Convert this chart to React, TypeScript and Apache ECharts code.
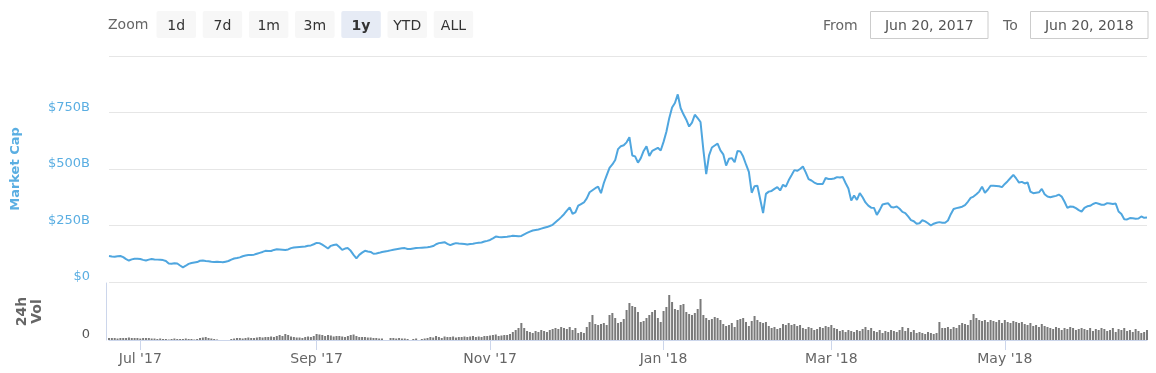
import React, { useEffect, useRef } from "react";
import * as echarts from "echarts";

// ---- data ----
const startDate = "2017-06-20";

// Total market cap, $B, one value per day from Jun 20, 2017 to Jun 20, 2018
const marketCap: number[] = [
  115, 113, 112, 114, 115, 110, 101, 95, 100, 103,
  103, 102, 98, 95, 99, 102, 100, 99, 98, 97,
  93, 82, 81, 83, 82, 73, 65, 72, 80, 84,
  86, 88, 94, 95, 93, 92, 90, 89, 90, 89,
  87, 90, 93, 99, 104, 106, 109, 114, 117, 119,
  120, 121, 125, 129, 133, 138, 137, 137, 142, 145,
  144, 143, 142, 144, 150, 153, 154, 155, 156, 157,
  160, 162, 167, 173, 172, 165, 157, 148, 160, 164,
  166, 155, 142, 148, 150, 138, 120, 105, 120, 130,
  138, 135, 133, 125, 126, 129, 133, 135, 137, 140,
  143, 145, 147, 149, 150, 146, 146, 148, 150, 151,
  152, 153, 154, 156, 159, 167, 172, 174, 176, 169,
  163, 168, 172, 170, 169, 168, 166, 168, 169, 172,
  174, 175, 179, 182, 186, 193, 201, 199, 198, 199,
  200, 202, 205, 204, 202, 204, 211, 217, 223, 228,
  230, 232, 236, 240, 243, 248, 253, 264, 275, 287,
  300, 316, 330, 302, 308, 338, 345, 352, 370, 397,
  406, 415, 422, 393, 438, 472, 505, 520, 540, 588,
  601, 605, 618, 641, 560, 556, 528, 548, 580, 600,
  558, 580, 587, 594, 582, 620, 665, 725, 772, 792,
  830, 770, 742, 718, 688, 705, 740, 725, 708, 585,
  477, 560, 595, 604, 612, 582, 565, 515, 545, 548,
  530, 580, 578, 555, 520, 487, 395, 424, 426, 365,
  305, 390, 400, 403, 412, 420, 405, 430, 422, 450,
  472, 495, 492, 500, 511, 485, 455, 449, 440, 434,
  434, 434, 460, 456, 456, 458, 464, 462, 465, 438,
  414, 360, 383, 363, 393, 375, 352, 338, 329, 328,
  297, 318, 343, 346, 348, 332, 330, 334, 324, 310,
  305, 290, 274, 269, 258, 260, 273, 268, 260, 250,
  258, 262, 265, 262, 262, 272, 300, 323, 327, 330,
  333, 340, 355, 372, 378, 388, 400, 422, 395, 408,
  426, 426, 425, 424, 420, 434, 446, 460, 474, 458,
  440, 443, 436, 441, 400, 393, 395, 397, 412, 388,
  378, 375, 378, 381, 387, 378, 355, 328, 334, 333,
  327, 318, 311, 328, 335, 337, 345, 350, 346, 342,
  342, 349, 347, 345, 347, 312, 301, 278, 277, 283,
  282, 280, 281, 290, 284, 285,
];

// 24h volume, $B, one value per day
const volume: number[] = [
  2, 2, 2, 1.5, 2, 2, 2, 2.5, 2, 2, 2, 1.5, 2, 2, 2, 1.5, 1.5, 1,
  1.5, 1, 1, 0.5, 1, 1.5, 1, 1, 1, 1.5, 1, 1, 0.5, 1,
  2, 2.5, 3, 2, 1.5, 1, 0.5,
  0, 0, 0, 0, 1,
  1.5, 2, 2, 1.5, 2, 2.5, 2, 2, 2.5, 3, 2.5, 3,
  3, 3.5, 3, 4, 5, 4, 6, 5, 3.5, 3, 2.5,
  2.5, 2, 3, 3.5, 3, 4,
  6, 5.5, 5, 4, 5, 4.5, 3.5, 4, 4, 3.5,
  3, 4, 5, 5.5, 4, 3, 3, 3, 2.5, 2.5,
  2, 2, 1.5, 1.5, 0, 0, 2, 2, 1.5, 2, 1.5,
  1.5, 1, 0, 1, 1.5, 0, 1,
  1.5, 2, 3, 2.5, 4, 3, 2, 3.5, 3, 3, 3.5, 2.5, 3, 3, 3.5,
  3, 3.5, 4, 3, 3.5, 3, 4, 4,
  4.5, 5, 5.5, 4, 4.5, 5, 5,
  6, 8, 10, 12, 17,
  12, 9, 8, 7, 9,
  8, 10, 9, 8, 10, 11, 12, 11, 13, 12,
  11, 13, 10, 12,
  7, 8, 7,
  13, 18, 25, 16,
  15, 16, 17, 15,
  25, 27, 22,
  17, 18, 21,
  30, 37, 34, 33, 28,
  18, 19, 22, 25, 28,
  30, 22, 18,
  29, 33, 45, 38, 31, 30, 35, 36,
  28, 26, 25, 27, 31, 41, 25, 22,
  20, 21, 23, 22, 20,
  16, 14, 15, 17, 13,
  20, 21, 22, 18,
  14, 19, 24, 20,
  18, 17, 18, 14,
  12, 13, 11, 12,
  16, 15, 17, 15, 16,
  14, 15, 12, 11, 13,
  12, 10, 11, 13, 12,
  14, 13, 15, 12, 11,
  9, 10, 8, 10, 9, 8, 10, 9,
  11, 13, 10, 12,
  9, 8, 10, 7, 9, 8, 10, 9, 8,
  10, 13, 9, 12, 8, 10,
  7, 8, 7, 6, 8, 7, 6,
  7, 18, 12,
  12, 13, 11, 13, 12,
  15, 17, 16, 15,
  20, 26, 22, 20,
  19, 20, 18, 20, 19, 18, 20, 17,
  20, 18, 17, 19, 18, 17,
  18, 16, 15, 17, 14, 15, 13, 16, 14,
  13, 12, 11, 13, 12, 10, 12, 11, 13, 12, 10, 11, 12,
  11, 10, 12, 9, 11, 10, 12, 11, 9, 10, 12, 8, 11, 10, 12, 9, 10, 8, 11, 9, 7, 8, 10,
];

const tickDates = ["2017-07-01", "2017-09-01", "2017-11-01", "2018-01-01", "2018-03-01", "2018-05-01"];
const tickLabels = ["Jul '17", "Sep '17", "Nov '17", "Jan '18", "Mar '18", "May '18"];
const capTicks = [0, 250, 500, 750, 1000];
const zoomButtons = ["1d", "7d", "1m", "3m", "1y", "YTD", "ALL"];
const activeZoom = "1y";
const fromDate = "Jun 20, 2017";
const toDate = "Jun 20, 2018";

function buildDates(start: string, n: number): string[] {
  const out: string[] = [];
  const t0 = Date.parse(start + "T00:00:00Z");
  for (let i = 0; i < n; i++) {
    out.push(new Date(t0 + i * 86400000).toISOString().slice(0, 10));
  }
  return out;
}

const FONT = "DejaVu Sans";
const BLUE = "#4fa6df";
const LABEL_BLUE = "#5aaee2";

export default function App() {
  const ref = useRef<HTMLDivElement>(null);
  useEffect(() => {
    if (!ref.current) return;
    const chart = echarts.init(ref.current, null, { renderer: "svg" });
    const days = buildDates(startDate, Math.max(marketCap.length, volume.length));
    const showTick = (_i: number, v: string) => tickDates.indexOf(v) >= 0;

    const graphic: any[] = [
      {
        type: "text", x: 108, y: 24,
        style: { text: "Zoom", fill: "#666", fontSize: 14, fontFamily: FONT, verticalAlign: "middle" },
      },
      ...zoomButtons.map((b, k) => ({
        type: "group", x: 156.5 + 46.2 * k, y: 11,
        children: [
          { type: "rect", shape: { x: 0, y: 0, width: 39.5, height: 27, r: 2 },
            style: { fill: b === activeZoom ? "#e6ebf5" : "#f7f7f7" } },
          { type: "text", x: 19.75, y: 13.5,
            style: { text: b, align: "center", verticalAlign: "middle", fill: "#333",
              fontSize: 14, fontFamily: FONT, fontWeight: b === activeZoom ? "bold" : "normal" } },
        ],
      })),
      { type: "text", x: 823, y: 24.5,
        style: { text: "From", fill: "#666", fontSize: 14, fontFamily: FONT, verticalAlign: "middle" } },
      { type: "rect", shape: { x: 870.5, y: 11.5, width: 117.5, height: 27 },
        style: { fill: "#fff", stroke: "#cccccc", lineWidth: 1 } },
      { type: "text", x: 929.25, y: 25,
        style: { text: fromDate, fill: "#555", fontSize: 14, fontFamily: FONT, align: "center", verticalAlign: "middle" } },
      { type: "text", x: 1003, y: 24.5,
        style: { text: "To", fill: "#666", fontSize: 14, fontFamily: FONT, verticalAlign: "middle" } },
      { type: "rect", shape: { x: 1030.5, y: 11.5, width: 117.5, height: 27 },
        style: { fill: "#fff", stroke: "#cccccc", lineWidth: 1 } },
      { type: "text", x: 1089.25, y: 25,
        style: { text: toDate, fill: "#555", fontSize: 14, fontFamily: FONT, align: "center", verticalAlign: "middle" } },
    ];

    chart.setOption({
      animation: false,
      textStyle: { fontFamily: FONT },
      graphic,
      grid: [
        { left: 109, right: 9, top: 56, bottom: 91, containLabel: false },
        { left: 109, right: 9, top: 283, bottom: 33, containLabel: false },
      ],
      xAxis: [
        { type: "category", gridIndex: 0, data: days, boundaryGap: false, show: false },
        {
          type: "category", gridIndex: 1, data: days, boundaryGap: false,
          axisLine: { show: true, lineStyle: { color: "#ccd6eb", width: 1 } },
          axisTick: { show: true, interval: showTick, length: 10, lineStyle: { color: "#ccd6eb" } },
          axisLabel: {
            interval: showTick, margin: 11, color: "#666", fontSize: 14, fontFamily: FONT,
            formatter: (v: string) => { const k = tickDates.indexOf(v); return k >= 0 ? tickLabels[k] : ""; },
          },
          splitLine: { show: false },
        },
      ],
      yAxis: [
        {
          type: "value", gridIndex: 0, min: capTicks[0], max: capTicks[capTicks.length - 1], interval: 250,
          name: "Market Cap", nameLocation: "middle", nameRotate: 90, nameGap: 88,
          nameTextStyle: { color: LABEL_BLUE, fontWeight: "bold", fontSize: 13, fontFamily: FONT },
          axisLine: { show: false }, axisTick: { show: false },
          axisLabel: {
            margin: 19, color: LABEL_BLUE, fontSize: 13, fontFamily: FONT, verticalAlign: "bottom",
            formatter: (v: number) => (v === 1000 ? "" : v === 0 ? "$0" : "$" + v + "B"),
          },
          splitLine: { show: true, lineStyle: { color: "#e6e6e6", width: 1 } },
        },
        {
          type: "value", gridIndex: 1, min: 0, max: 57, offset: 3,
          name: "24h\nVol", nameLocation: "middle", nameRotate: 90, nameGap: 63,
          nameTextStyle: { color: "#666", fontWeight: "bold", fontSize: 14, fontFamily: FONT, lineHeight: 15 },
          axisLine: { show: true, lineStyle: { color: "#ccd6eb" } }, axisTick: { show: false },
          axisLabel: {
            margin: 16, color: "#555", fontSize: 13, fontFamily: FONT, verticalAlign: "bottom",
            customValues: [0], formatter: (v: number) => (v === 0 ? "0" : ""),
          },
          splitLine: { show: false },
        },
      ],
      series: [
        {
          type: "line", xAxisIndex: 0, yAxisIndex: 0, data: marketCap, symbol: "none",
          lineStyle: { color: BLUE, width: 2 }, itemStyle: { color: BLUE }, silent: true,
        },
        {
          type: "bar", xAxisIndex: 1, yAxisIndex: 1, data: volume, barWidth: 2,
          itemStyle: { color: "#7a7a7a" }, silent: true,
        },
      ],
    });
    return () => chart.dispose();
  }, []);
  return <div ref={ref} style={{ position: "fixed", left: 0, top: 0, width: 1156, height: 373 }} />;
}
